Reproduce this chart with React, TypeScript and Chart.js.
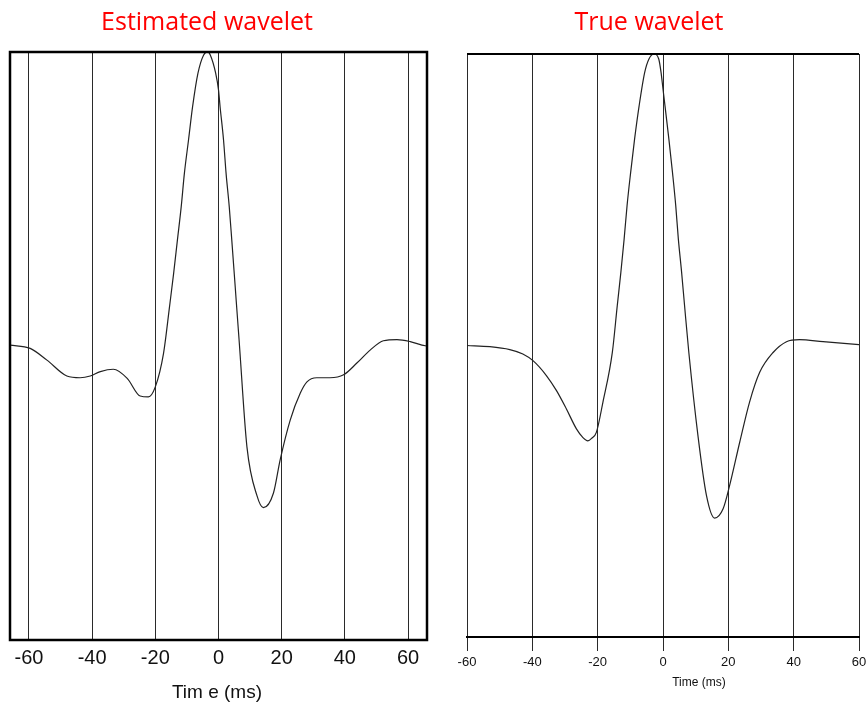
import React, { useEffect, useRef } from "react";
import { Chart, registerables } from "chart.js";

Chart.register(...registerables);

// Estimated wavelet: time (ms) and normalised amplitude
const estTime = [
  -66, -59.6, -54.3, -48, -43.8, -40.6, -37.4, -33.3, -28.9, -24.8, -22.2, -20,
  -17.4, -15.5, -14.2, -13, -11.8, -10.8, -9.5, -8.2, -6.5, -4.7, -3.4, -2.6,
  -0.9, 0, 0.5, 1.6, 2.4, 3.4, 4.2, 5, 5.6, 6.5, 9, 12.2, 14.2, 17.4, 19.5,
  22.7, 25.9, 28, 31.1, 35.3, 39.6, 43.8, 48, 52.2, 56.5, 60.7, 64.4, 66,
];
const estAmp = [
  0.003, -0.008, -0.048, -0.102, -0.108, -0.102, -0.087, -0.079, -0.11, -0.17,
  -0.173, -0.139, -0.025, 0.134, 0.247, 0.361, 0.474, 0.587, 0.7, 0.814, 0.928,
  0.99, 1.0, 0.99, 0.928, 0.871, 0.814, 0.7, 0.587, 0.474, 0.361, 0.244, 0.155,
  0.023, -0.343, -0.51, -0.55, -0.5, -0.388, -0.252, -0.16, -0.122, -0.108,
  -0.108, -0.098, -0.058, -0.014, 0.018, 0.022, 0.015, 0.003, 0.0,
];

// True wavelet: time (ms) and normalised amplitude
const trueTime = [
  -60, -53, -46.9, -42.9, -39.8, -35.7, -32.6, -29.6, -26.5, -24.5, -23, -21.8,
  -20.4, -18.4, -15.5, -14, -12.9, -11.9, -11, -9.9, -8.7, -7.3, -5.6, -4.3,
  -2.75, -1.3, -0.6, 0, 0.6, 1.8, 2.9, 3.9, 4.7, 5.7, 6.6, 7.9, 10.7, 13.3,
  15.8, 18.4, 20.4, 23.5, 26.5, 29.6, 33.7, 37.8, 41.8, 49, 60,
];
const trueAmp = [
  0, -0.004, -0.014, -0.029, -0.052, -0.103, -0.155, -0.217, -0.286, -0.316,
  -0.327, -0.318, -0.298, -0.195, -0.023, 0.137, 0.251, 0.365, 0.48, 0.594,
  0.708, 0.823, 0.937, 0.983, 1.0, 0.983, 0.937, 0.88, 0.823, 0.708, 0.594,
  0.48, 0.365, 0.251, 0.137, -0.023, -0.309, -0.514, -0.592, -0.56, -0.48,
  -0.331, -0.194, -0.092, -0.024, 0.013, 0.02, 0.013, 0.003,
];

const estTicks = [-60, -40, -20, 0, 20, 40, 60];
const trueTicks = [-60, -40, -20, 0, 20, 40, 60];

const SANS = "'Liberation Sans', Arial, sans-serif";
const TITLE_FONT = "25px 'Open Sans', 'Noto Sans', sans-serif";

// Panel heading, axis caption and frame lines
const panelDecor = {
  id: "panelDecor",
  afterDraw(chart: any, _args: any, opts: any) {
    const { ctx, chartArea: a } = chart;
    ctx.save();
    ctx.strokeStyle = "#000";
    if (opts.frame === "box") {
      ctx.lineWidth = 2.5;
      ctx.strokeRect(a.left, a.top, a.right - a.left, a.bottom - a.top);
    } else {
      ctx.lineWidth = 2;
      ctx.beginPath();
      ctx.moveTo(a.left, a.top);
      ctx.lineTo(a.right, a.top);
      ctx.stroke();
    }
    ctx.fillStyle = "#f00";
    ctx.font = TITLE_FONT;
    ctx.textAlign = "center";
    ctx.textBaseline = "alphabetic";
    ctx.fillText(opts.title, opts.titleX, opts.titleY);
    ctx.fillStyle = "#111";
    ctx.font = opts.captionFont;
    ctx.fillText(opts.caption, opts.captionX, opts.captionY);
    ctx.restore();
  },
};

type PanelProps = {
  width: number;
  left: number;
  times: number[];
  amps: number[];
  ticks: number[];
  xMin: number;
  xMax: number;
  padding: { top: number; left: number; right: number; bottom: number };
  axisHeight: number;
  tickFont: any;
  tickPadding: number;
  drawTicks: boolean;
  decor: any;
};

function WaveletPanel(p: PanelProps) {
  const ref = useRef<HTMLCanvasElement | null>(null);
  useEffect(() => {
    if (!ref.current) return;
    const points = p.times.map((t, i) => ({ x: t, y: p.amps[i] }));
    const chart = new Chart(ref.current, {
      type: "line",
      data: {
        datasets: [
          {
            data: points,
            borderColor: "#222",
            borderWidth: 1.2,
            pointRadius: 0,
            cubicInterpolationMode: "monotone",
            fill: false,
          },
        ],
      },
      options: {
        animation: false,
        responsive: false,
        events: [],
        layout: { padding: p.padding },
        plugins: {
          legend: { display: false },
          tooltip: { enabled: false },
          panelDecor: p.decor,
        } as any,
        scales: {
          x: {
            type: "linear",
            min: p.xMin,
            max: p.xMax,
            afterBuildTicks: (s: any) => {
              s.ticks = p.ticks.map((v) => ({ value: v }));
            },
            afterFit: (s: any) => {
              s.height = p.axisHeight;
              s.paddingLeft = 0;
              s.paddingRight = 0;
            },
            grid: {
              color: "#2a2a2a",
              lineWidth: 1,
              drawTicks: p.drawTicks,
              tickLength: 14,
              tickColor: "#2a2a2a",
            },
            border: {
              display: p.drawTicks,
              color: "#000",
              width: 2,
            },
            ticks: {
              autoSkip: false,
              maxRotation: 0,
              color: "#111",
              font: p.tickFont,
              padding: p.tickPadding,
            },
          },
          y: {
            display: false,
            min: -1,
            max: 1,
          },
        },
      },
      plugins: [panelDecor],
    } as any);
    return () => chart.destroy();
  }, []);
  return (
    <canvas
      ref={ref}
      width={p.width}
      height={709}
      style={{ position: "absolute", left: p.left, top: 0, display: "block" }}
    />
  );
}

export default function App() {
  return (
    <div
      style={{
        position: "absolute",
        left: 0,
        top: 0,
        width: 866,
        height: 709,
        background: "#fff",
        overflow: "hidden",
      }}
    >
      <WaveletPanel
        width={440}
        left={0}
        times={estTime}
        amps={estAmp}
        ticks={estTicks}
        xMin={-66}
        xMax={66}
        padding={{ top: 52, left: 10, right: 13, bottom: 0 }}
        axisHeight={69}
        tickFont={{ family: SANS, size: 20 }}
        tickPadding={6}
        drawTicks={false}
        decor={{
          frame: "box",
          title: "Estimated wavelet",
          titleX: 207,
          titleY: 30,
          caption: "Tim e (ms)",
          captionFont: `19px ${SANS}`,
          captionX: 217,
          captionY: 698,
        }}
      />
      <WaveletPanel
        width={426}
        left={440}
        times={trueTime}
        amps={trueAmp}
        ticks={trueTicks}
        xMin={-60}
        xMax={60}
        padding={{ top: 54, left: 27, right: 7, bottom: 0 }}
        axisHeight={72}
        tickFont={{ family: SANS, size: 13 }}
        tickPadding={4}
        drawTicks={true}
        decor={{
          frame: "top",
          title: "True wavelet",
          titleX: 209,
          titleY: 30,
          caption: "Time (ms)",
          captionFont: `12px ${SANS}`,
          captionX: 259,
          captionY: 686,
        }}
      />
    </div>
  );
}
